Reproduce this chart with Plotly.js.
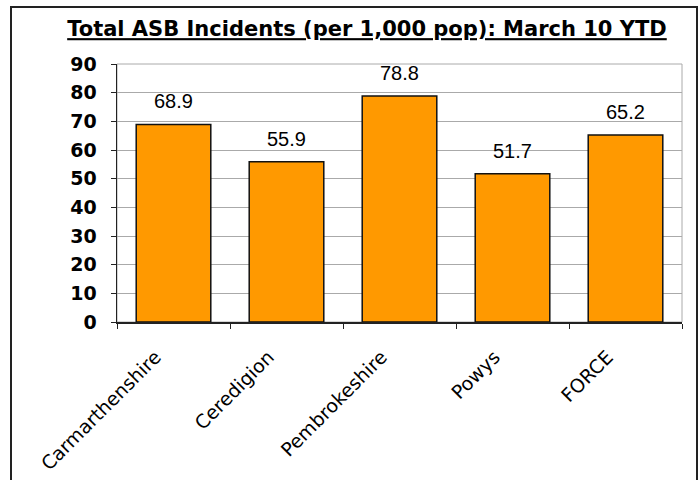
<!DOCTYPE html>
<html><head><meta charset="utf-8">
<script src="https://cdn.plot.ly/plotly-3.0.1.min.js"></script>
<style>
html,body{margin:0;padding:0;background:#fff;}
#wrap{position:relative;width:699px;height:480px;overflow:hidden;}
#chart{position:absolute;left:0;top:0;width:699px;height:480px;}
#frame{position:absolute;left:10px;top:6px;width:684px;height:520px;border:2px solid #222;pointer-events:none;}
</style></head>
<body><div id="wrap"><div id="chart"></div><div id="frame"></div></div>
<script>
const categories = ["Carmarthenshire", "Ceredigion", "Pembrokeshire", "Powys", "FORCE"];
const values = [68.9, 55.9, 78.8, 51.7, 65.2];
const labels = ["68.9", "55.9", "78.8", "51.7", "65.2"];
const yTicks = [0, 10, 20, 30, 40, 50, 60, 70, 80, 90];

const trace = {
  type: 'bar', x: categories, y: values,
  marker: {color: '#FF9900', line: {color: '#111', width: 1.5}},
  width: 0.66, hoverinfo: 'none'
};
const annotations = categories.map((c, i) => ({
  x: c, y: values[i], text: labels[i], showarrow: false,
  yanchor: 'bottom', yshift: 10,
  font: {family: 'Liberation Sans, Arial', size: 20, color: '#000'}
}));
const layout = {
  width: 699, height: 480,
  margin: {l: 117, r: 17, t: 64, b: 158},
  paper_bgcolor: 'rgba(0,0,0,0)', plot_bgcolor: '#fff',
  title: {text: '<b><u>Total ASB Incidents (per 1,000 pop): March 10 YTD</u></b>',
    font: {family: 'DejaVu Sans', size: 21, color: '#000'},
    x: 0.525, xanchor: 'center', y: 0.94, yanchor: 'middle'},
  xaxis: {type: 'category', tickson: 'boundaries', ticks: 'outside', ticklen: 5, tickcolor: '#222',
    showline: true, linecolor: '#222', linewidth: 1.5, tickangle: -45,
    ticklabelstandoff: 15, ticklabelshift: -18,
    tickfont: {family: 'DejaVu Sans', size: 19, color: '#000'}, showgrid: false},
  yaxis: {range: [0, 90], tickvals: yTicks, ticks: 'outside', ticklen: 5, tickcolor: '#222',
    showline: true, linecolor: '#222', linewidth: 1.5, gridcolor: '#aaa', gridwidth: 1,
    ticklabelstandoff: 10,
    tickfont: {family: 'DejaVu Sans', size: 19, color: '#000', weight: 'bold'}, zeroline: false},
  shapes: [{type: 'rect', xref: 'paper', yref: 'paper', x0: 0, x1: 1, y0: 0, y1: 1,
    line: {color: '#aaa', width: 1}, layer: 'below'}],
  annotations: annotations,
  showlegend: false, bargap: 0.34
};
Plotly.newPlot('chart', [trace], layout, {displayModeBar: false, staticPlot: true});
</script></body></html>
